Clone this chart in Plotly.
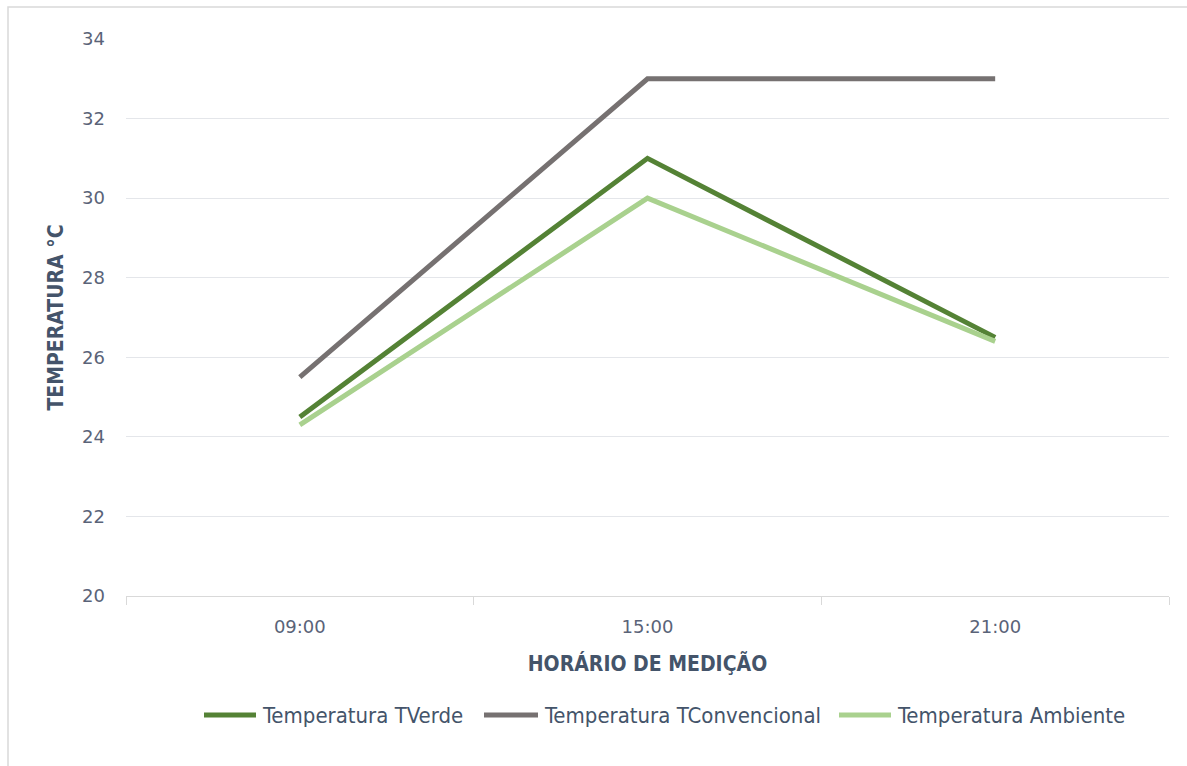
import plotly.graph_objects as go

# Medição de temperatura em três horários
horarios = ["09:00", "15:00", "21:00"]
t_verde = [24.5, 31.0, 26.5]
t_convencional = [25.5, 33.0, 33.0]
t_ambiente = [24.3, 30.0, 26.4]

y_ticks = [20, 22, 24, 26, 28, 30, 32, 34]

series = [
    ("Temperatura TVerde", t_verde, "#548235"),
    ("Temperatura TConvencional", t_convencional, "#767171"),
    ("Temperatura Ambiente", t_ambiente, "#A9D18E"),
]

fig = go.Figure()
for nome, valores, cor in series:
    fig.add_trace(go.Scatter(
        x=horarios, y=valores, name=nome, mode="lines",
        line=dict(color=cor, width=5), showlegend=False,
    ))

W, H = 1187, 766
ml, mr, mt, mb = 126, 18, 39, 170
pw, ph = W - ml - mr, H - mt - mb

def px_x(p):
    return (p - ml) / pw

def px_y(p):
    return 1 - (p - mt) / ph

txt = "#44546A"
cond = "DejaVu Sans Condensed, Liberation Sans Narrow"

# Legenda desenhada à mão, com amostras de linha mais longas
legend_y = 715
legend_slots = [(202, 258), (482, 540), (837, 893)]
shapes = [dict(
    type="rect", xref="paper", yref="paper",
    x0=px_x(8), x1=px_x(1200), y0=px_y(780), y1=px_y(7),
    line=dict(color="#D9D9D9", width=1.5), fillcolor="rgba(0,0,0,0)", layer="below",
)]
annotations = []
for (nome, _, cor), (a, b) in zip(series, legend_slots):
    shapes.append(dict(
        type="line", xref="paper", yref="paper",
        x0=px_x(a + 2), x1=px_x(b - 2), y0=px_y(legend_y), y1=px_y(legend_y),
        line=dict(color=cor, width=5),
    ))
    annotations.append(dict(
        xref="paper", yref="paper", x=px_x(b + 2), y=px_y(legend_y),
        xanchor="left", yanchor="middle", showarrow=False, text=nome,
        font=dict(family=cond, size=22, color=txt),
    ))

fig.update_layout(
    width=W, height=H,
    margin=dict(l=ml, r=mr, t=mt, b=mb),
    paper_bgcolor="white", plot_bgcolor="white",
    font=dict(family="DejaVu Sans", color=txt),
    showlegend=False,
    xaxis=dict(
        type="category", range=[-0.5, 2.5],
        showgrid=False, showline=True, linecolor="#D9D9D9", linewidth=1,
        ticks="outside", tickson="boundaries", ticklen=8, tickcolor="#D9D9D9",
        ticklabelstandoff=14,
        tickfont=dict(family="DejaVu Sans", size=18, color="#5A6378"),
        title=dict(text="<b>HORÁRIO DE MEDIÇÃO</b>", standoff=20,
                   font=dict(family=cond, size=21, color=txt)),
    ),
    yaxis=dict(
        range=[20, 34], tickvals=y_ticks,
        showgrid=True, gridcolor="#E4E6EA", gridwidth=1,
        zeroline=False, showline=False,
        ticklabelstandoff=20,
        tickfont=dict(family="DejaVu Sans", size=18, color="#5A6378"),
        title=dict(text="<b>TEMPERATURA °C</b>", standoff=12,
                   font=dict(family=cond, size=21, color=txt)),
    ),
    shapes=shapes,
    annotations=annotations,
)

fig.write_html("out.html")
